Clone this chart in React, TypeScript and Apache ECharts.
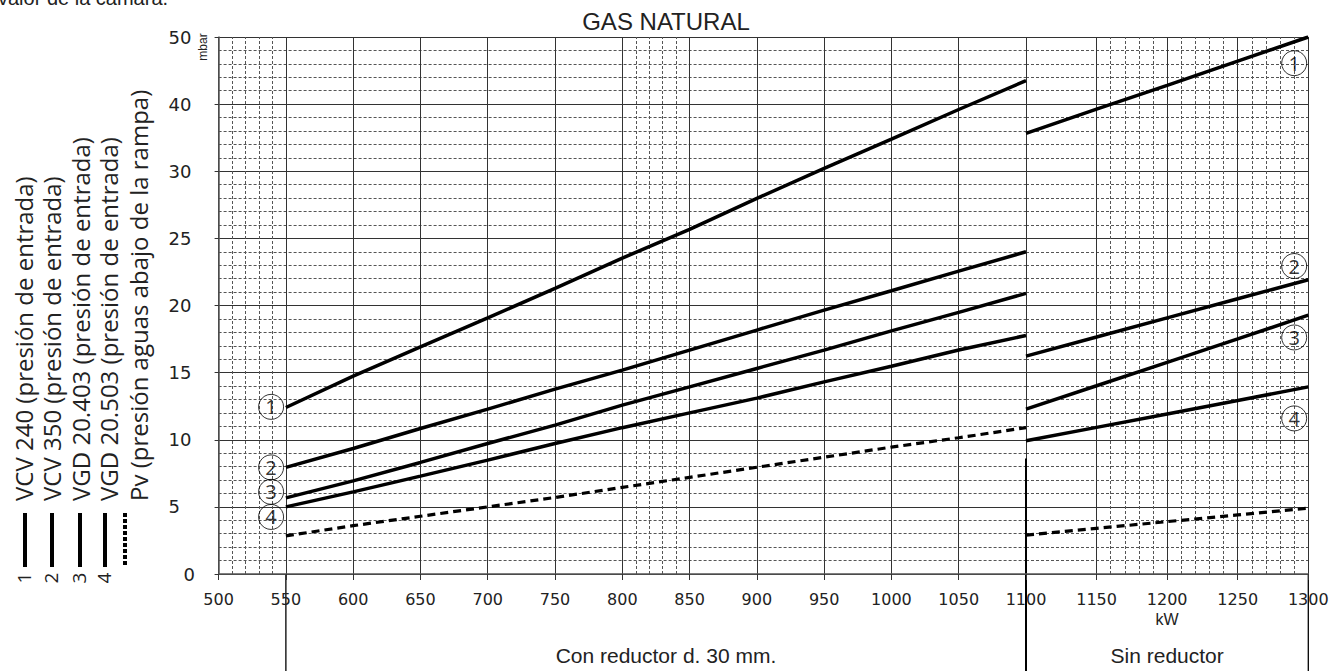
import React, { useEffect, useRef } from 'react';
import * as echarts from 'echarts';

// ---------- data ----------
const chartTitle = 'GAS NATURAL';
const topNote = 'valor de la cámara.';
const yTickLabels = ['0', '5', '10', '15', '20', '25', '30', '40', '50'];
const kwLeft = [550, 600, 650, 700, 750, 800, 850, 900, 950, 1000, 1050, 1100];
const kwRight = [1100, 1150, 1200, 1250, 1300];

const vcv240Left = [12.4, 14.74, 16.92, 19.08, 21.27, 23.53, 25.67, 27.98, 30.43, 34.8, 39.2, 43.5];
const vcv350Left = [7.94, 9.35, 10.84, 12.28, 13.77, 15.19, 16.68, 18.17, 19.66, 21.1, 22.56, 24.0];
const vgd403Left = [5.67, 6.94, 8.31, 9.72, 11.09, 12.58, 13.94, 15.31, 16.68, 18.11, 19.49, 20.9];
const vgd503Left = [5.0, 6.12, 7.29, 8.48, 9.72, 10.9, 12.0, 13.1, 14.31, 15.48, 16.68, 17.77];
const pvLeft = [2.84, 3.6, 4.3, 5.0, 5.7, 6.45, 7.2, 7.95, 8.7, 9.45, 10.15, 10.9];

const vcv240Right = [35.65, 39.25, 42.8, 46.4, 50.0];
const vcv350Right = [16.23, 17.65, 19.08, 20.5, 21.92];
const vgd403Right = [12.28, 14.02, 15.77, 17.51, 19.28];
const vgd503Right = [9.92, 10.92, 11.92, 12.92, 13.94];
const pvRight = [2.9, 3.4, 3.9, 4.4, 4.9];

const circleLabels = ['1', '2', '3', '4'];
const circleKwLeft = 539;
const circleValuesLeft = [12.45, 7.94, 6.12, 4.25];
const circleKwRight = 1290;
const circleValuesRight = [46.1, 22.94, 17.62, 11.59];

const minorKwLeft = [510, 520, 530, 540, 810, 820, 830, 840];
const minorKwRight = [1160, 1170, 1180, 1190, 1210, 1220, 1230, 1240, 1260, 1270, 1280, 1290];

const legendNumbers = ['1', '2', '3', '4', ''];
const legendNames = [
  'VCV 240 (presión de entrada)',
  'VCV 350 (presión de entrada)',
  'VGD 20.403 (presión de entrada)',
  'VGD 20.503 (presión de entrada)',
  'Pv (presión aguas abajo de la rampa)',
];
const sectionLabels = ['Con reductor d. 30 mm.', 'Sin reductor'];

// y axis: 0-30 in steps of 5, then 30-50 in steps of 10, equal spacing
const toT = (v: number) => (v <= 30 ? v / 5 : 6 + (v - 30) / 10);

const W = 1334;
const H = 671;

export default function App() {
  const ref = useRef<HTMLDivElement>(null);

  useEffect(() => {
    if (!ref.current) return;
    const chart = echarts.init(ref.current, null, { renderer: 'svg', width: W, height: H });

    const majorLine = { color: '#333', width: 1 };
    const minorLine = { color: '#555', width: 1, type: [3, 2] as any };

    const lineSeries = (name: string, kws: number[], vals: number[], gi: number, dashed = false) => ({
      type: 'line',
      name,
      xAxisIndex: gi,
      yAxisIndex: gi,
      data: kws.map((k, i) => [k, toT(vals[i])]),
      symbol: 'none',
      showSymbol: false,
      silent: true,
      z: 5,
      lineStyle: { color: '#000', width: dashed ? 3.2 : 3.5, type: dashed ? [8, 5] : 'solid' },
    });

    const minorSeries = (kws: number[], gi: number) => ({
      type: 'line',
      xAxisIndex: gi,
      yAxisIndex: gi,
      data: [],
      silent: true,
      z: 1,
      markLine: {
        silent: true,
        symbol: ['none', 'none'],
        label: { show: false },
        lineStyle: minorLine,
        data: kws.map((k) => ({ xAxis: k })),
      },
    });

    const circleSeries = (kw: number, vals: number[], gi: number) => ({
      type: 'scatter',
      xAxisIndex: gi,
      yAxisIndex: gi,
      symbol: 'circle',
      symbolSize: 25,
      silent: true,
      z: 6,
      data: vals.map((v) => [kw, toT(v)]),
      itemStyle: { color: 'rgba(255,255,255,0)', borderColor: '#000', borderWidth: 1 },
      label: {
        show: true,
        position: 'inside',
        formatter: (p: any) => circleLabels[p.dataIndex],
        color: '#000',
        fontSize: 20,
        fontFamily: 'Open Sans',
      },
    });

    const yAxisBase = (gi: number) => ({
      type: 'value',
      gridIndex: gi,
      min: 0,
      max: 8,
      interval: 1,
      axisLine: { show: gi === 0, lineStyle: { color: '#555', width: 1.5 } },
      axisTick: { show: gi === 0, length: 4, lineStyle: { color: '#333' } },
      minorTick: { show: false, splitNumber: 5 },
      splitLine: { show: true, lineStyle: majorLine },
      minorSplitLine: { show: true, lineStyle: minorLine },
      axisLabel: {
        show: gi === 0,
        align: 'left',
        margin: 50,
        fontFamily: 'DejaVu Sans',
        fontSize: 18,
        color: '#222',
        formatter: (t: number) => {
          const s = yTickLabels[Math.round(t)];
          return s === '0' ? '{z|0}' : s;
        },
        rich: {
          z: { padding: [0, 0, 0, 15], fontFamily: 'DejaVu Sans', fontSize: 18, color: '#222' },
        },
      },
    });

    const xLabel = {
      fontFamily: 'DejaVu Sans',
      fontSize: 16,
      color: '#222',
      margin: 17,
      formatter: (v: number) => String(v),
    };

    const option: any = {
      animation: false,
      backgroundColor: '#fff',
      grid: [
        { left: 218.6, right: W - 1026, top: 37, bottom: H - 574 },
        { left: 1026, right: W - 1308.3, top: 37, bottom: H - 574 },
      ],
      xAxis: [
        {
          type: 'value',
          gridIndex: 0,
          min: 500,
          max: 1100,
          interval: 50,
          axisLine: { show: true, onZero: false, lineStyle: { color: '#555', width: 1.5 } },
          axisTick: { show: true, length: 6, lineStyle: { color: '#333' } },
          splitLine: { show: true, lineStyle: majorLine },
          axisLabel: { ...xLabel, showMinLabel: true, showMaxLabel: true },
        },
        {
          type: 'value',
          gridIndex: 1,
          min: 1100,
          max: 1300,
          interval: 50,
          axisLine: { show: true, onZero: false, lineStyle: { color: '#555', width: 1.5 } },
          axisTick: { show: true, length: 6, lineStyle: { color: '#333' } },
          splitLine: { show: true, lineStyle: majorLine },
          axisLabel: { ...xLabel, showMinLabel: false, showMaxLabel: true },
          name: 'kW',
          nameLocation: 'middle',
          nameGap: 37,
          nameTextStyle: { fontFamily: 'Liberation Sans', fontSize: 16, color: '#222' },
        },
      ],
      yAxis: [yAxisBase(0), yAxisBase(1)],
      series: [
        minorSeries(minorKwLeft, 0),
        minorSeries(minorKwRight, 1),
        lineSeries(legendNames[0], kwLeft, vcv240Left, 0),
        lineSeries(legendNames[1], kwLeft, vcv350Left, 0),
        lineSeries(legendNames[2], kwLeft, vgd403Left, 0),
        lineSeries(legendNames[3], kwLeft, vgd503Left, 0),
        lineSeries(legendNames[4], kwLeft, pvLeft, 0, true),
        lineSeries(legendNames[0], kwRight, vcv240Right, 1),
        lineSeries(legendNames[1], kwRight, vcv350Right, 1),
        lineSeries(legendNames[2], kwRight, vgd403Right, 1),
        lineSeries(legendNames[3], kwRight, vgd503Right, 1),
        lineSeries(legendNames[4], kwRight, pvRight, 1, true),
        circleSeries(circleKwLeft, circleValuesLeft, 0),
        circleSeries(circleKwRight, circleValuesRight, 1),
      ],
    };

    chart.setOption(option);

    const px = (gi: number, kw: number, mbar: number) =>
      chart.convertToPixel({ gridIndex: gi } as any, [kw, toT(mbar)]) as number[];

    const axisY = px(0, 500, 0)[1];
    const x550 = px(0, 550, 0)[0];
    const x1100 = px(0, 1100, 0)[0];
    const x1300 = px(1, 1300, 0)[0];
    const divTop = px(0, 1100, 8.6)[1];
    const yTop = px(0, 500, 50);

    const graphics: any[] = [
      {
        type: 'text',
        x: 666,
        y: 21,
        silent: true,
        style: {
          text: chartTitle,
          font: '24px "Liberation Sans"',
          fill: '#222',
          textAlign: 'center',
          textVerticalAlign: 'middle',
        },
      },
      {
        type: 'text',
        x: -2,
        y: 8,
        silent: true,
        style: {
          text: topNote,
          font: '20px "Liberation Sans"',
          fill: '#222',
          textAlign: 'left',
          textVerticalAlign: 'bottom',
        },
      },
      {
        type: 'text',
        x: yTop[0] - 16,
        y: yTop[1] + 10,
        rotation: Math.PI / 2,
        silent: true,
        style: {
          text: 'mbar',
          font: '12px "Liberation Sans"',
          fill: '#222',
          textAlign: 'center',
          textVerticalAlign: 'middle',
        },
      },
      {
        type: 'line',
        silent: true,
        shape: { x1: x550, y1: axisY, x2: x550, y2: H },
        style: { stroke: '#000', lineWidth: 1.3 },
      },
      {
        type: 'line',
        silent: true,
        shape: { x1: x1100, y1: divTop, x2: x1100, y2: H },
        style: { stroke: '#000', lineWidth: 2 },
      },
      {
        type: 'line',
        silent: true,
        shape: { x1: x1300, y1: axisY, x2: x1300, y2: H },
        style: { stroke: '#000', lineWidth: 1.3 },
      },
      {
        type: 'text',
        x: (x550 + x1100) / 2 + 10,
        y: 655,
        silent: true,
        style: {
          text: sectionLabels[0],
          font: '21px "Liberation Sans"',
          fill: '#222',
          textAlign: 'center',
          textVerticalAlign: 'middle',
        },
      },
      {
        type: 'text',
        x: (x1100 + x1300) / 2,
        y: 655,
        silent: true,
        style: {
          text: sectionLabels[1],
          font: '21px "Liberation Sans"',
          fill: '#222',
          textAlign: 'center',
          textVerticalAlign: 'middle',
        },
      },
    ];

    // left rotated legend
    const colText = [23, 51.5, 80, 108.5, 138];
    const colLine = [25, 52, 80, 105, 125];
    legendNames.forEach((name, i) => {
      graphics.push({
        type: 'text',
        x: colText[i],
        y: 501,
        rotation: Math.PI / 2,
        silent: true,
        style: {
          text: name,
          font: '24px "Open Sans"',
          fill: '#222',
          textAlign: 'left',
          textVerticalAlign: 'middle',
        },
      });
      graphics.push({
        type: 'line',
        silent: true,
        shape: { x1: colLine[i], y1: 513, x2: colLine[i], y2: 567 },
        style: {
          stroke: '#000',
          lineWidth: 4,
          lineDash: i === 4 ? [4, 2] : null,
        },
      });
      if (legendNumbers[i]) {
        graphics.push({
          type: 'text',
          x: colLine[i] - 1,
          y: 578,
          rotation: Math.PI / 2,
          silent: true,
          style: {
            text: legendNumbers[i],
            font: '19px "Open Sans"',
            fill: '#222',
            textAlign: 'center',
            textVerticalAlign: 'middle',
          },
        });
      }
    });

    chart.setOption({ graphic: graphics });

    return () => chart.dispose();
  }, []);

  return (
    <div
      ref={ref}
      style={{ position: 'fixed', left: 0, top: 0, width: W, height: H, background: '#fff' }}
    />
  );
}
